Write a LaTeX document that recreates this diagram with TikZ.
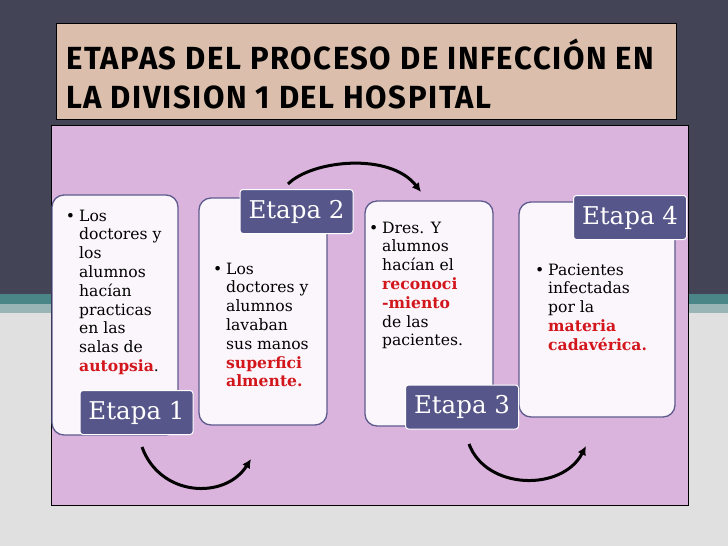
\documentclass[tikz,border=0pt]{standalone}
\usepackage{fontspec}
\usepackage{graphicx}
\usetikzlibrary{arrows.meta}
\setmainfont{DejaVu Serif}
\newfontfamily\titlefont{Fira Sans}[LetterSpace=5]
\definecolor{slate}{HTML}{434556}
\definecolor{tealband}{HTML}{4A8688}
\definecolor{lightteal}{HTML}{9AB5B5}
\definecolor{slidegray}{HTML}{E0E0E0}
\definecolor{titletan}{HTML}{DBBFAC}
\definecolor{pinkbg}{HTML}{DAB4DC}
\definecolor{cardfill}{HTML}{FBF6FB}
\definecolor{cardline}{HTML}{5E5B8E}
\definecolor{labelfill}{HTML}{56568A}
\definecolor{redtxt}{HTML}{D2161C}
\newcommand{\redbf}[1]{{\bfseries\color{redtxt}#1}}
\newcommand{\cardline}[1]{\hbox{#1}}
\newcommand{\firstline}[1]{\hbox{\llap{\textbullet\hskip 4pt}#1}}
\newcommand{\titlestyle}{\titlefont\bfseries\fontsize{32}{38}\selectfont}
\newlength\tlen
\AtBeginDocument{\settowidth{\tlen}{\titlestyle ETAPAS DEL PROCESO DE INFECCIÓN EN}}
\tikzset{
  card/.style={draw=cardline, line width=1.3pt, fill=cardfill, rounded corners=12pt, inner sep=0pt},
  stagelabel/.style={draw=white, line width=1pt, fill=labelfill, rounded corners=3pt, text=white,
     font=\fontsize{24.5}{28}\selectfont, inner sep=0pt, minimum width=113pt, minimum height=44pt},
  cardtext/.style={anchor=base west, inner sep=0pt, font=\fontsize{15.6}{18.8}\selectfont, text=black},
  bendarrow/.style={line width=3pt, -{Latex[length=9pt,width=9pt]}},
  titletext/.style={anchor=base west, inner sep=0pt, text=black}
}
\begin{document}
\begin{tikzpicture}[x=1pt,y=-1pt]
\useasboundingbox (0,0) rectangle (728,546);
% slide background
\fill[slidegray] (0,0) rectangle (728,546);
\fill[slate] (0,0) rectangle (728,294);
\fill[tealband] (0,294) rectangle (728,304);
\fill[lightteal] (0,304) rectangle (728,313);
% title box
\draw[fill=titletan, line width=1pt] (56,23) rectangle (676,119);
\pgfmathsetmacro{\tfac}{588/\tlen}
\node[titletext] (t1) at (66,69) {\scalebox{\tfac}[1]{\titlestyle ETAPAS DEL PROCESO DE INFECCIÓN EN}};
\node[titletext] (t2) at (66,108) {\scalebox{\tfac}[1]{\titlestyle LA DIVISION 1 DEL HOSPITAL}};
% pink panel
\draw[fill=pinkbg, line width=1pt] (51,125) rectangle (688,505);
% cards
\node[card, minimum width=126pt, minimum height=240pt] (c1) at (115,315) {};
\node[card, minimum width=128pt, minimum height=227pt] (c2) at (263,311.5) {};
\node[card, minimum width=128pt, minimum height=225pt] (c3) at (429,313.5) {};
\node[card, minimum width=156pt, minimum height=215pt] (c4) at (597,309.5) {};
% card texts
\node[cardtext] (x1) at (79,221) {\vtop{\firstline{Los}\cardline{doctores y}\cardline{los}\cardline{alumnos}\cardline{hacían}\cardline{practicas}\cardline{en las}\cardline{salas de}\cardline{\redbf{autopsia}.}}};
\node[cardtext] (x2) at (226,274) {\vtop{\firstline{Los}\cardline{doctores y}\cardline{alumnos}\cardline{lavaban}\cardline{sus manos}\cardline{\redbf{superfici}}\cardline{\redbf{almente.}}}};
\node[cardtext] (x3) at (382,233) {\vtop{\firstline{Dres. Y}\cardline{alumnos}\cardline{hacían el}\cardline{\redbf{reconoci}}\cardline{\redbf{-miento}}\cardline{de las}\cardline{pacientes.}}};
\node[cardtext] (x4) at (548,275) {\vtop{\firstline{Pacientes}\cardline{infectadas}\cardline{por la}\cardline{\redbf{materia}}\cardline{\redbf{cadavérica.}}}};
% stage labels
\node[stagelabel] (e1) at (136.5,412.5) {Etapa 1};
\node[stagelabel] (e2) at (296.5,211.5) {Etapa 2};
\node[stagelabel] (e3) at (462,407) {Etapa 3};
\node[stagelabel] (e4) at (630,217.5) {Etapa 4};
% arrows
\coordinate (a1s) at (142,447);
\coordinate (a1e) at (251,459);
\coordinate (a2s) at (288,184);
\coordinate (a2e) at (421,192);
\coordinate (a3s) at (469,444);
\coordinate (a3e) at (586,446);
\draw[bendarrow] (a1s) .. controls (160,497) and (225,500) .. (a1e);
\draw[bendarrow] (a2s) .. controls (312,160) and (390,152) .. (a2e);
\draw[bendarrow] (a3s) .. controls (486,490) and (562,492) .. (a3e);
\end{tikzpicture}
\end{document}
